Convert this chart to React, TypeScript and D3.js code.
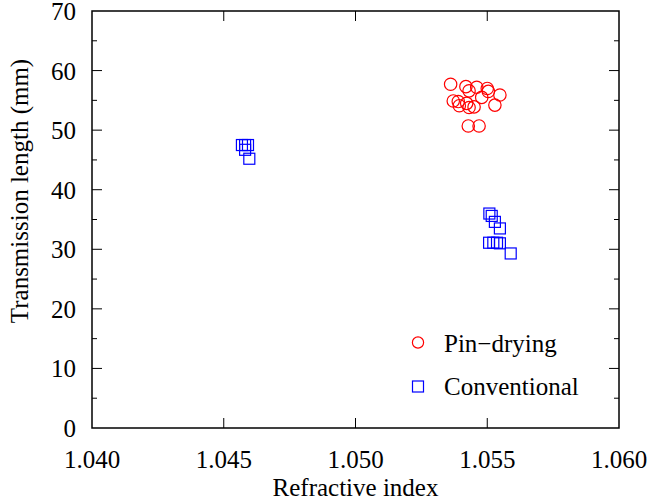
import React from "react";
import * as d3 from "d3";

const pinX = [1.05361, 1.05419, 1.05431, 1.0546, 1.055, 1.05504, 1.05548, 1.05479, 1.05371, 1.0539, 1.05394, 1.05422, 1.05431, 1.0545, 1.05529, 1.05428, 1.05469];
const pinY = [57.7, 57.3, 56.6, 57.2, 57.0, 56.5, 55.9, 55.5, 54.9, 54.8, 54.1, 54.5, 53.8, 53.9, 54.2, 50.7, 50.7];
const convX = [1.04569, 1.04581, 1.04592, 1.04581, 1.04597, 1.05508, 1.05517, 1.05529, 1.05548, 1.05507, 1.05523, 1.05537, 1.05548, 1.05589];
const convY = [47.5, 47.5, 47.5, 46.7, 45.2, 36.0, 35.6, 34.6, 33.5, 31.1, 31.1, 31.1, 31.0, 29.3];
const xTicks = [1.04, 1.045, 1.05, 1.055, 1.06];
const yTicks = [0, 10, 20, 30, 40, 50, 60, 70];
const yMinor = [5, 15, 25, 35, 45, 55, 65];
const legendLabels = ["Pin\u2212drying", "Conventional"];

const W = 662, H = 502;
const L = 92, R = 619, T = 11, B = 428;
const font = "Liberation Serif, Times New Roman, Times, DejaVu Serif, serif";

export default function App() {
  const x = d3.scaleLinear().domain([1.04, 1.06]).range([L, R]);
  const y = d3.scaleLinear().domain([0, 70]).range([B, T]);
  const fs = 25;
  const ts = { fontFamily: font, fontSize: fs, fill: "#000" } as React.CSSProperties;
  return (
    <svg width={W} height={H} style={{ position: "absolute", left: 0, top: 0, background: "#fff", fontFamily: font }}>
      <rect x={L} y={T} width={R - L} height={B - T} fill="none" stroke="#000" strokeWidth={1.5} />
      {xTicks.slice(1, -1).map((t) => (
        <g key={"xt" + t}>
          <line x1={x(t)} x2={x(t)} y1={B} y2={B - 10} stroke="#000" strokeWidth={1} />
          <line x1={x(t)} x2={x(t)} y1={T} y2={T + 10} stroke="#000" strokeWidth={1} />
        </g>
      ))}
      {yTicks.slice(1, -1).map((t) => (
        <g key={"yt" + t}>
          <line x1={L} x2={L + 10} y1={y(t)} y2={y(t)} stroke="#000" strokeWidth={1} />
          <line x1={R} x2={R - 10} y1={y(t)} y2={y(t)} stroke="#000" strokeWidth={1} />
        </g>
      ))}
      {yMinor.map((t) => (
        <g key={"ym" + t}>
          <line x1={L} x2={L + 5} y1={y(t)} y2={y(t)} stroke="#000" strokeWidth={1} />
          <line x1={R} x2={R - 5} y1={y(t)} y2={y(t)} stroke="#000" strokeWidth={1} />
        </g>
      ))}
      {xTicks.map((t) => (
        <text key={"xl" + t} x={x(t)} y={B + 40} textAnchor="middle" style={ts}>
          {d3.format(".3f")(t)}
        </text>
      ))}
      {yTicks.map((t) => (
        <text key={"yl" + t} x={L - 16} y={y(t) + 9} textAnchor="end" style={ts}>
          {t}
        </text>
      ))}
      <text x={(L + R) / 2} y={496} textAnchor="middle" style={ts}>Refractive index</text>
      <text transform={`translate(28,${191}) rotate(-90)`} textAnchor="middle" style={ts}>
        Transmission length (mm)
      </text>
      {pinX.map((v, i) => (
        <circle key={"p" + i} cx={x(v)} cy={y(pinY[i])} r={6.2} fill="none" stroke="#ff0000" strokeWidth={1.2} />
      ))}
      {convX.map((v, i) => (
        <rect key={"c" + i} x={x(v) - 5.5} y={y(convY[i]) - 5.5} width={11} height={11} fill="none" stroke="#0000ff" strokeWidth={1.2} />
      ))}
      <circle cx={418} cy={342.5} r={5.6} fill="none" stroke="#ff0000" strokeWidth={1.2} />
      <rect x={418 - 5.5} y={386.5 - 5.5} width={11} height={11} fill="none" stroke="#0000ff" strokeWidth={1.2} />
      <text x={444} y={352} style={ts}>{legendLabels[0]}</text>
      <text x={444} y={395} style={ts}>{legendLabels[1]}</text>
    </svg>
  );
}
